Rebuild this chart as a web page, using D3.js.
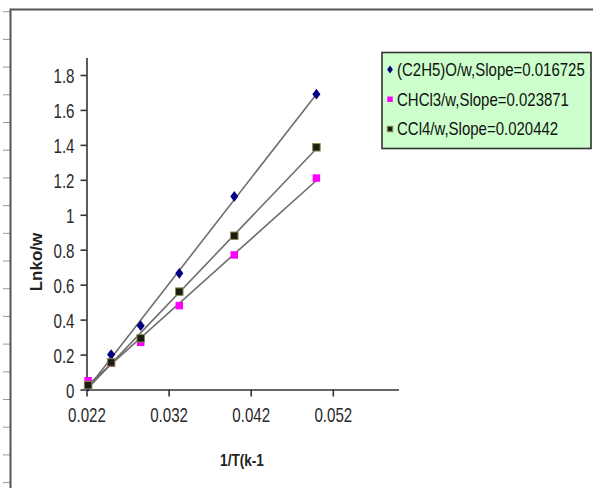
<!DOCTYPE html>
<html>
<head>
<meta charset="utf-8">
<script src="https://cdn.jsdelivr.net/npm/d3@7"></script>
<style>
  body { margin: 0; background: #fff; }
  text { font-family: "Liberation Sans", Arial, sans-serif; }
</style>
</head>
<body>
<svg></svg>
<script>
// x = 1/T values, one y list per solvent
const xVals = [0.0222, 0.025, 0.0286, 0.0333, 0.04, 0.05];
const etherY = [0.02, 0.2, 0.365, 0.665, 1.105, 1.69];
const chcl3Y = [0.05, 0.15, 0.27, 0.48, 0.77, 1.21];
const ccl4Y = [0.025, 0.155, 0.293, 0.56, 0.88, 1.386];

const seriesNames = ["(C2H5)O/w,Slope=0.016725", "CHCl3/w,Slope=0.023871", "CCl4/w,Slope=0.020442"];
const xTicks = [0.022, 0.032, 0.042, 0.052];
const yTicks = [0, 0.2, 0.4, 0.6, 0.8, 1, 1.2, 1.4, 1.6, 1.8];

var svgWidth = 593,
    svgHeight = 488;

var svg = d3.select("svg")
    .attr("width", svgWidth)
    .attr("height", svgHeight);

svg.append("rect")
    .attr("width", svgWidth).attr("height", svgHeight)
    .attr("fill", "#fff");

// squeeze text horizontally, the original font is a narrow one
function narrow(sel, k) {
    sel.each(function() {
        var w = this.getComputedTextLength();
        d3.select(this).attr("textLength", w * k).attr("lengthAdjust", "spacingAndGlyphs");
    });
}

// outer frame with the little ruler marks on the left
var ruler = d3.scaleLinear().domain([0, 17]).range([11.7, 482.6]);
svg.append("g").selectAll("line")
    .data(d3.range(0, 18))
    .enter().append("line")
    .attr("x1", 3).attr("x2", 10)
    .attr("y1", d => ruler(d)).attr("y2", d => ruler(d))
    .attr("stroke", "#999").attr("stroke-width", 1);

svg.append("path")
    .attr("d", "M10.5,488V9.5H593")
    .attr("fill", "none")
    .attr("stroke", "#555")
    .attr("stroke-width", 2);

var x = d3.scaleLinear().domain([0.022, 0.06]).range([86.5, 398.5]);
var y = d3.scaleLinear().domain([0, 1.9]).range([389.5, 57.5]);

var xAxis = d3.axisBottom(x).tickValues(xTicks).tickFormat(d3.format(".3f")).tickSize(7).tickSizeOuter(0).tickPadding(8);
var yAxis = d3.axisLeft(y).tickValues(yTicks).tickFormat(d3.format("~g")).tickSize(6).tickSizeOuter(0).tickPadding(6);

var gx = svg.append("g").attr("transform", "translate(0," + y(0) + ")").call(xAxis);
var gy = svg.append("g").attr("transform", "translate(" + x(0.022) + ",0)").call(yAxis);

svg.selectAll(".domain").attr("stroke", "#333").attr("stroke-width", 1.6);
svg.selectAll(".tick line").attr("stroke", "#333").attr("stroke-width", 1.6);
svg.selectAll(".tick text")
    .attr("font-size", 21)
    .attr("font-family", "'Liberation Sans', Arial, sans-serif")
    .attr("fill", "#2a2a2a");
gx.selectAll(".tick text").attr("dy", "0.85em");
gy.selectAll(".tick text").attr("dy", "0.36em");
narrow(svg.selectAll(".tick text"), 0.72);

// axis titles
svg.append("text")
    .attr("transform", "translate(42,262) rotate(-90)")
    .attr("text-anchor", "middle")
    .attr("font-size", 17)
    .attr("font-weight", "bold")
    .attr("fill", "#222")
    .text("Lnko/w");

var xt = svg.append("text")
    .attr("x", 242).attr("y", 466)
    .attr("text-anchor", "middle")
    .attr("font-size", 17)
    .attr("font-weight", "bold")
    .attr("fill", "#222")
    .text("1/T(k-1");
narrow(xt, 0.8);

var series = [
    { name: seriesNames[0], ys: etherY, shape: "diamond", fill: "#000080", stroke: "#000080" },
    { name: seriesNames[1], ys: chcl3Y, shape: "square", fill: "#ff00ff", stroke: "#ff00ff" },
    { name: seriesNames[2], ys: ccl4Y, shape: "square", fill: "#1c1c10", stroke: "#8a8a55" }
];

// least squares trend line over the range of the points
function fit(xs, ys) {
    var mx = d3.mean(xs), my = d3.mean(ys);
    var sxy = d3.sum(xs, (v, i) => (v - mx) * (ys[i] - my));
    var sxx = d3.sum(xs, v => (v - mx) * (v - mx));
    var b = sxy / sxx;
    var x0 = d3.min(xs), x1 = d3.max(xs);
    return [[x0, my + b * (x0 - mx)], [x1, my + b * (x1 - mx)]];
}

var line = d3.line().x(d => x(d[0])).y(d => y(d[1]));

svg.append("g").selectAll("path")
    .data(series)
    .enter().append("path")
    .attr("fill", "none")
    .attr("stroke", "#6e6e6e")
    .attr("stroke-width", 1.6)
    .attr("d", d => line(fit(xVals, d.ys)));

function marker(g, s, size) {
    if (s.shape === "diamond") {
        g.append("path")
            .attr("d", "M0," + (-size * 0.6) + "L" + (size * 0.45) + ",0L0," + (size * 0.6) + "L" + (-size * 0.45) + ",0Z")
            .attr("fill", s.fill);
    } else {
        g.append("rect")
            .attr("x", -size / 2).attr("y", -size / 2)
            .attr("width", size).attr("height", size)
            .attr("fill", s.fill)
            .attr("stroke", s.stroke)
            .attr("stroke-width", s.fill === s.stroke ? 0 : 1);
    }
}

series.forEach(function(s) {
    var g = svg.append("g");
    s.ys.forEach(function(v, i) {
        var m = g.append("g").attr("transform", "translate(" + x(xVals[i]) + "," + y(v) + ")");
        marker(m, s, s.shape === "diamond" ? 9 : 7.5);
    });
});

// legend
var legend = svg.append("g");
legend.append("rect")
    .attr("x", 382).attr("y", 52.5)
    .attr("width", 209).attr("height", 96)
    .attr("fill", "#ccffcc")
    .attr("stroke", "#333")
    .attr("stroke-width", 1.6);

var rowY = d3.scalePoint().domain(seriesNames).range([69.5, 129]);

var labels = [];
series.forEach(function(s) {
    var cy = rowY(s.name);
    var m = legend.append("g").attr("transform", "translate(390," + cy + ")");
    marker(m, s, s.shape === "diamond" ? 6.5 : 5.5);
    labels.push({ cy: cy, t: legend.append("text")
        .attr("dy", "0.36em")
        .attr("font-size", 18)
        .attr("fill", "#111")
        .text(s.name) });
});
// squeeze all labels by the same factor so the widest fits inside the box
var widest = d3.max(labels, l => l.t.node().getComputedTextLength());
var k = 188 / widest;
labels.forEach(l => l.t.attr("transform", "translate(397," + l.cy + ") scale(" + k + ",1)"));
</script>
</body>
</html>
